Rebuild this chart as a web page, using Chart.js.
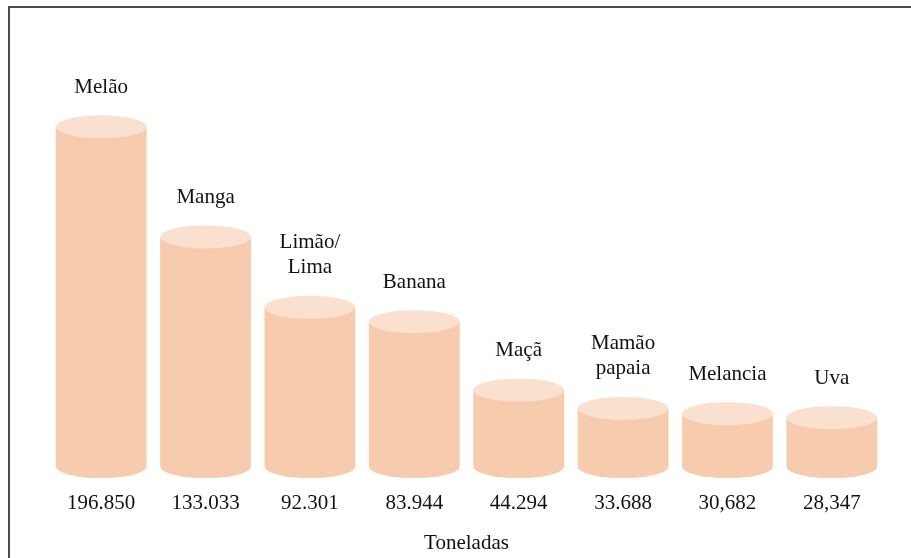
<!DOCTYPE html>
<html lang="pt">
<head>
  <meta charset="UTF-8">
  <title>Produção de frutas (toneladas)</title>
  <style>
    body {
      margin: 0;
      padding: 0;
      background: #ffffff;
    }
    canvas {
      display: block;
    }
  </style>
</head>
<body>
  <canvas id="fruitChart" width="911" height="558"></canvas>

  <script src="https://cdn.jsdelivr.net/npm/chart.js"></script>
  <script>
    // Dados do gráfico
    const categories = ['Melão', 'Manga', ['Limão/', 'Lima'], 'Banana', 'Maçã', ['Mamão', 'papaia'], 'Melancia', 'Uva'];
    const production = [196850, 133033, 92301, 83944, 44294, 33688, 30682, 28347];
    const valueLabels = ['196.850', '133.033', '92.301', '83.944', '44.294', '33.688', '30,682', '28,347'];

    const bodyColor = '#f7cbae';
    const topColor = '#fae0cf';
    const fontFamily = "'Liberation Serif', 'Times New Roman', serif";

    // moldura (só topo e esquerda aparecem)
    const frame = {
      id: 'frame',
      beforeDraw(chart) {
        const ctx = chart.ctx;
        ctx.save();
        ctx.fillStyle = '#4d4d4d';
        ctx.fillRect(8, 6, chart.width - 8, 2);
        ctx.fillRect(8, 6, 2, chart.height - 6);
        ctx.restore();
      }
    };

    // desenha as barras como cilindros + nome da fruta acima
    const cylinders = {
      id: 'cylinders',
      afterDatasetsDraw(chart) {
        const ctx = chart.ctx;
        const meta = chart.getDatasetMeta(0);
        const ry = 11.5;
        ctx.save();
        meta.data.forEach((bar, i) => {
          const rx = bar.width / 2;
          const x = bar.x, top = bar.y, base = bar.base;

          ctx.fillStyle = bodyColor;
          ctx.beginPath();
          ctx.moveTo(x - rx, top);
          ctx.lineTo(x - rx, base);
          ctx.ellipse(x, base, rx, ry, 0, Math.PI, 0, true);
          ctx.lineTo(x + rx, top);
          ctx.closePath();
          ctx.fill();

          ctx.fillStyle = topColor;
          ctx.beginPath();
          ctx.ellipse(x, top, rx, ry, 0, 0, Math.PI * 2);
          ctx.fill();

          // nome
          const lines = [].concat(categories[i]);
          ctx.fillStyle = '#111';
          ctx.font = '21px ' + fontFamily;
          ctx.textAlign = 'center';
          ctx.textBaseline = 'middle';
          let y = top - ry - 28;
          for (let k = lines.length - 1; k >= 0; k--) {
            ctx.fillText(lines[k], x, y);
            y -= 25;
          }
        });
        ctx.restore();
      }
    };

    new Chart(document.getElementById('fruitChart'), {
      type: 'bar',
      data: {
        labels: categories,
        datasets: [{
          data: production,
          backgroundColor: 'rgba(0,0,0,0)',
          borderWidth: 0,
          barPercentage: 0.87,
          categoryPercentage: 1
        }]
      },
      options: {
        responsive: false,
        animation: false,
        layout: {
          padding: { top: 35, left: 49, right: 27, bottom: 0 }
        },
        plugins: {
          legend: { display: false },
          tooltip: { enabled: false }
        },
        scales: {
          y: {
            display: false,
            min: 0,
            max: 250000
          },
          x: {
            grid: { display: false, drawTicks: false },
            border: { display: false },
            ticks: {
              padding: 24,
              color: '#111',
              font: { family: fontFamily, size: 21 },
              callback: (val, i) => valueLabels[i]
            },
            title: {
              display: true,
              text: 'Toneladas',
              color: '#111',
              font: { family: fontFamily, size: 21 },
              padding: { top: -9, bottom: 2 }
            }
          }
        }
      },
      plugins: [frame, cylinders]
    });
  </script>
</body>
</html>
